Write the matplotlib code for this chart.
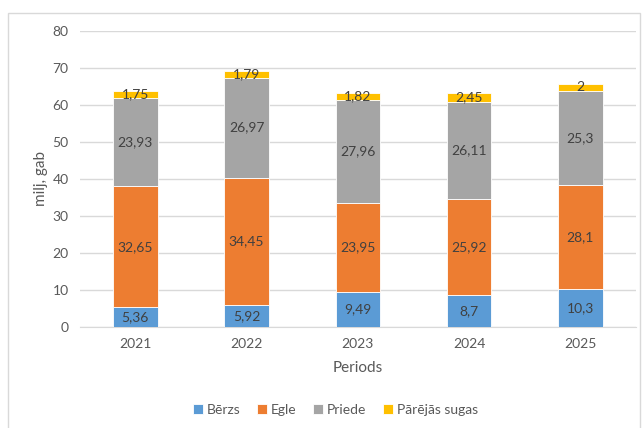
import matplotlib.pyplot as plt
import numpy as np
from matplotlib.patches import Rectangle

years = ["2021", "2022", "2023", "2024", "2025"]
berzs = [5.36, 5.92, 9.49, 8.7, 10.3]
egle = [32.65, 34.45, 23.95, 25.92, 28.1]
priede = [23.93, 26.97, 27.96, 26.11, 25.3]
parejas = [1.75, 1.79, 1.82, 2.45, 2]

series = [("Bērzs", berzs, "#5B9BD5"),
          ("Egle", egle, "#ED7D31"),
          ("Priede", priede, "#A5A5A5"),
          ("Pārējās sugas", parejas, "#FFC000")]

plt.rcParams['font.family'] = ['Lato', 'DejaVu Sans']

fig = plt.figure(figsize=(6.43, 4.28), dpi=100)
ax = fig.add_axes([0.124, 0.236, 0.865, 0.692])

# chart border like the spreadsheet frame
fig.patches.append(Rectangle((8 / 643, -0.1), 632 / 643, 1.1 - 13 / 428,
                             transform=fig.transFigure, fill=False,
                             edgecolor="#D9D9D9", lw=1))

x = np.arange(len(years))
bottom = np.zeros(len(years))
for name, vals, col in series:
    bars = ax.bar(x, vals, 0.4, bottom=bottom, color=col, label=name,
                  edgecolor="white", linewidth=0.6, zorder=3)
    labels = [str(v).replace(".", ",") for v in vals]
    ax.bar_label(bars, labels=labels, label_type="center", fontsize=10,
                 color="#404040")
    bottom += np.array(vals)

ax.set_ylim(0, 80)
ax.set_yticks(range(0, 81, 10))
ax.set_xlim(-0.5, 4.5)
ax.set_xticks(x)
ax.set_xticklabels(years)
ax.grid(axis="y", color="#D9D9D9", lw=1, zorder=0)
for s in ["top", "right", "left"]:
    ax.spines[s].set_visible(False)
ax.spines["bottom"].set_color("#D9D9D9")
ax.tick_params(length=0, colors="#595959", labelsize=10, pad=8)

ax.set_xlabel("Periods", color="#595959", fontsize=11, labelpad=8)
ax.set_ylabel("milj, gab", color="#595959", fontsize=11, labelpad=3)

ax.legend(loc="center", bbox_to_anchor=(0.46, -0.28), ncol=4,
          frameon=False, fontsize=10, handlelength=0.7, handleheight=0.7,
          handletextpad=0.3, columnspacing=1.2, labelcolor="#595959")

fig.savefig("out.png", dpi=100)
